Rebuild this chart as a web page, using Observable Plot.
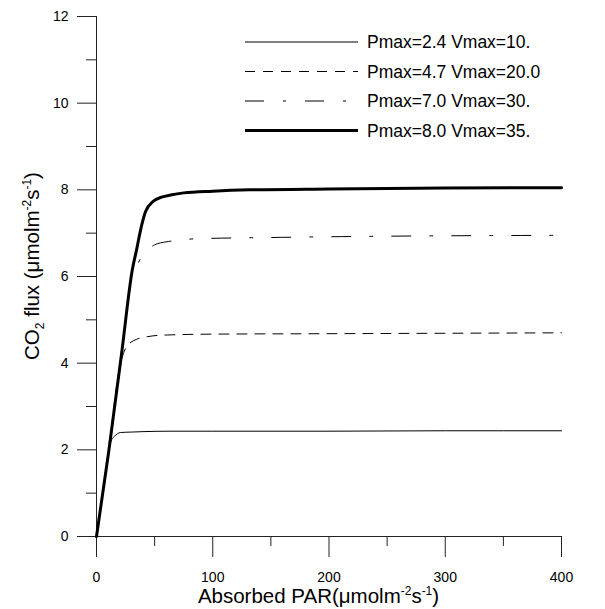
<!DOCTYPE html>
<html>
<head>
<meta charset="utf-8">
<script src="https://cdn.jsdelivr.net/npm/d3@7"></script>
<script src="https://cdn.jsdelivr.net/npm/@observablehq/plot@0.6"></script>
<style>
  body { margin: 0; background: #fff; }
  #chart { width: 605px; height: 609px; }
</style>
</head>
<body>
<div id="chart"></div>
<script>
// ---- data ----
const seriesLabels = ["Pmax=2.4 Vmax=10.", "Pmax=4.7 Vmax=20.0", "Pmax=7.0 Vmax=30.", "Pmax=8.0 Vmax=35."];

const par1  = [0, 5, 10.6, 12.5, 15, 18, 20.6, 30, 40, 64, 100, 200, 300, 400];
const flux1 = [0, 0.95, 1.98, 2.2, 2.3, 2.37, 2.4, 2.41, 2.42, 2.43, 2.43, 2.43, 2.44, 2.44];

const par2  = [0, 10.6, 18, 20, 23.5, 27.8, 32, 36.4, 43.6, 52, 61, 100, 200, 300, 400];
const flux2 = [0, 1.98, 3.6, 3.9, 4.25, 4.44, 4.52, 4.57, 4.61, 4.64, 4.65, 4.67, 4.68, 4.69, 4.70];

const par3  = [0, 10.6, 21.9, 29.3, 31, 34, 37.8, 43, 50, 60, 68.6, 85, 150, 250, 400];
const flux3 = [0, 1.98, 4.29, 5.85, 6.02, 6.2, 6.41, 6.6, 6.73, 6.8, 6.83, 6.87, 6.9, 6.93, 6.95];

const par4  = [0, 10.6, 21.9, 30.7, 34.5, 37.8, 42.2, 49, 56, 63.7, 75, 100, 132, 200, 300, 400];
const flux4 = [0, 1.98, 4.29, 6.14, 6.62, 7.06, 7.50, 7.74, 7.83, 7.88, 7.93, 7.97, 8.0, 8.02, 8.04, 8.05];

const xMajorTicks = [0, 100, 200, 300, 400];
const xMinorTicks = [50, 150, 250, 350];
const yMajorTicks = [0, 2, 4, 6, 8, 10, 12];
const yMinorTicks = [1, 3, 5, 7, 9, 11];

// ---- styles ----
const styles = [
  {strokeWidth: 1, dash: null},
  {strokeWidth: 1, dash: "10,8"},
  {strokeWidth: 1, dash: "19,19,3,19"},
  {strokeWidth: 3, dash: null}
];

const series = [[par1, flux1], [par2, flux2], [par3, flux3], [par4, flux4]];
const tables = series.map(([xs, ys], i) => xs.map((x, j) => ({x, y: ys[j], s: seriesLabels[i]})));

const font = "'Liberation Sans', Arial, Helvetica, sans-serif";
const axisColor = "#222";

const plot = Plot.plot({
  width: 605,
  height: 609,
  marginLeft: 96,
  marginRight: 44,
  marginTop: 16,
  marginBottom: 73,
  style: {fontFamily: font, fontSize: "14px", color: "#000", background: "#fff"},
  x: {domain: [0, 400]},
  y: {domain: [0, 12]},
  marks: [
    Plot.ruleY([0], {x1: 0, x2: 400, stroke: axisColor}),
    Plot.ruleX([0], {y1: 0, y2: 12, stroke: axisColor}),
    Plot.axisX(xMajorTicks, {tickSize: 21, tickPadding: 15, stroke: axisColor, fill: "#000", label: null, fontSize: 14}),
    Plot.axisX(xMinorTicks, {tickSize: 10, tickFormat: () => "", stroke: axisColor, label: null}),
    Plot.axisY(yMajorTicks, {tickSize: 19, tickPadding: 9, stroke: axisColor, fill: "#000", label: null, fontSize: 14}),
    Plot.axisY(yMinorTicks, {tickSize: 10, tickFormat: () => "", stroke: axisColor, label: null}),
    ...tables.map((t, i) => Plot.line(t, {
      x: "x", y: "y", curve: "monotone-x",
      stroke: "#000", strokeWidth: styles[i].strokeWidth,
      strokeDasharray: styles[i].dash
    }))
  ]
});

document.getElementById("chart").appendChild(plot);

// ---- axis titles and legend ----
const svg = d3.select(plot);
const xs = plot.scale("x"), ys = plot.scale("y");
const [xr0, xr1] = xs.range;
const [yr0, yr1] = ys.range;

function addRich(sel, parts) {
  let cur = 0;
  for (const [txt, kind] of parts) {
    const target = kind === "sup" ? -8 : kind === "sub" ? 5 : 0;
    const ts = sel.append("tspan").attr("dy", (target - cur) + "px").text(txt);
    if (kind !== "n") ts.style("font-size", "12px");
    cur = target;
  }
}

// x title
const xt = svg.append("text")
  .attr("x", (xr0 + xr1) / 2 - 10)
  .attr("y", 603)
  .attr("text-anchor", "middle")
  .style("font-family", font).style("font-size", "20.5px").attr("fill", "#000");
addRich(xt, [["Absorbed PAR(\u03bcmolm", "n"], ["-2", "sup"], ["s", "n"], ["-1", "sup"], [")", "n"]]);

// y title
const yt = svg.append("text")
  .attr("transform", `translate(39,${(yr0 + yr1) / 2 - 10}) rotate(-90)`)
  .attr("text-anchor", "middle")
  .style("font-family", font).style("font-size", "20.5px").attr("fill", "#000");
addRich(yt, [["CO", "n"], ["2", "sub"], [" flux (\u03bcmolm", "n"], ["-2", "sup"], ["s", "n"], ["-1", "sup"], [")", "n"]]);

// legend
const legendX = 245, legendLineLen = 113, legendTop = 42, legendStep = 29.5;
const lg = svg.append("g").attr("text-anchor", "start");
seriesLabels.forEach((lab, i) => {
  const y = legendTop + i * legendStep;
  lg.append("line")
    .attr("x1", legendX).attr("x2", legendX + legendLineLen)
    .attr("y1", y).attr("y2", y)
    .attr("stroke", "#000").attr("stroke-width", styles[i].strokeWidth)
    .attr("stroke-dasharray", styles[i].dash);
  lg.append("text")
    .attr("x", legendX + legendLineLen + 9).attr("y", y).attr("dy", "0.36em")
    .attr("text-anchor", "start")
    .style("font-family", font).style("font-size", "17.5px").attr("fill", "#000")
    .text(lab);
});
</script>
</body>
</html>
